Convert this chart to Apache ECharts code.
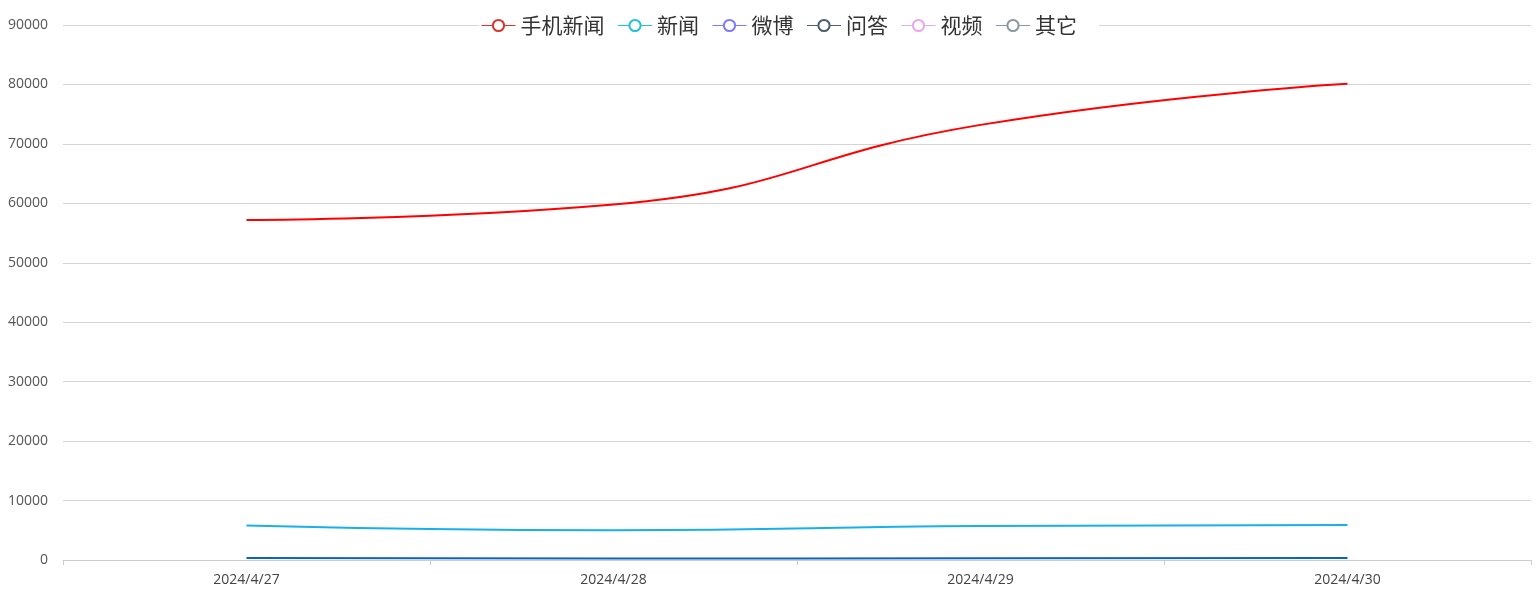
<!DOCTYPE html>
<html><head><meta charset="utf-8">
<script src="https://cdn.jsdelivr.net/npm/echarts@6/dist/echarts.min.js"></script>
<style>html,body{margin:0;padding:0;background:#fff}#c{width:1540px;height:593px}</style>
</head><body><div id="c"></div>
<script>
const categories = ['2024/4/27', '2024/4/28', '2024/4/29', '2024/4/30'];
const seriesNames = ['手机新闻', '新闻', '微博', '问答', '视频', '其它'];
const mobileNews = [57200, 59800, 73200, 80100];
const news = [5800, 5000, 5700, 5900];
const weibo = [350, 250, 300, 350];
const qa = [];
const video = [];
const other = [];
const yTicks = { min: 0, max: 90000, interval: 10000 };

const legendColors = ['#d9342b', '#22c0d8', '#7a7aff', '#4b5d6e', '#e8a8e8', '#8a96a2'];
const lineColors = ['#ff0000', '#18b0ea', '#0b63c1', '#4b5d6e', '#e8a8e8', '#8a96a2'];
const values = [mobileNews, news, weibo, qa, video, other];

const chart = echarts.init(document.getElementById('c'));
chart.setOption({
  animation: false,
  legend: {
    top: 13, left: 479,
    backgroundColor: '#fff', padding: [2, 22, 2, 2],
    itemWidth: 34, itemHeight: 14, itemGap: 13,
    textStyle: { fontSize: 21, color: '#333', fontFamily: 'Noto Sans CJK SC' },
    data: seriesNames.map((n, i) => ({
      name: n,
      itemStyle: { color: legendColors[i] },
      lineStyle: { color: legendColors[i], width: 1 }
    }))
  },
  grid: { left: 63, right: 9, top: 25, bottom: 33, containLabel: false },
  xAxis: {
    type: 'category', data: categories, boundaryGap: true,
    axisLine: { lineStyle: { color: '#ccc' } },
    axisTick: { show: true, lineStyle: { color: '#ccc' } },
    axisLabel: { color: '#444', fontSize: 14, fontFamily: 'Open Sans', margin: 13 }
  },
  yAxis: {
    type: 'value', min: yTicks.min, max: yTicks.max, interval: yTicks.interval,
    axisLine: { show: false }, axisTick: { show: false },
    splitLine: { lineStyle: { color: '#d4d4d4' } },
    axisLabel: { color: '#555', fontSize: 14, fontFamily: 'Open Sans', margin: 15, formatter: v => String(v) }
  },
  series: seriesNames.map((n, i) => ({
    name: n, type: 'line', smooth: true, showSymbol: false, symbol: 'emptyCircle',
    data: values[i],
    itemStyle: { color: legendColors[i] },
    lineStyle: { color: lineColors[i], width: 2 }
  }))
});
</script></body></html>
